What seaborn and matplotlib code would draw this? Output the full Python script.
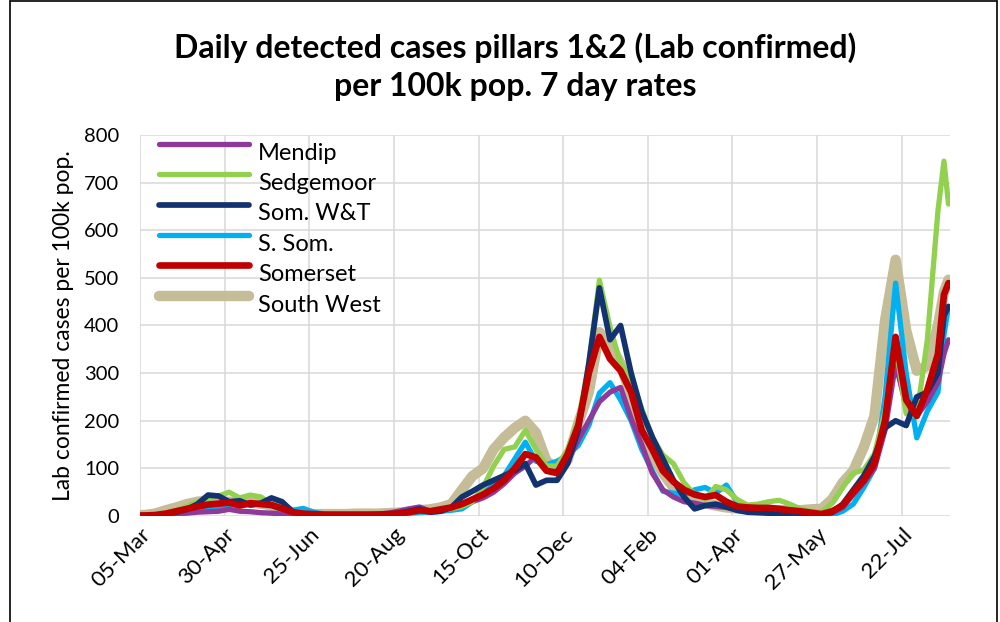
import numpy as np
import pandas as pd
import seaborn as sns
import matplotlib
matplotlib.use('Agg')
from matplotlib import pyplot as plt
import matplotlib.dates as mdates
from matplotlib.lines import Line2D

# sample days, counted from 05-Mar-2020
days = [0] + list(range(3, 529, 7)) + [532, 535]

mendip = [0, 0, 1, 2, 4, 6, 8, 9, 10, 14,
          10, 9, 7, 6, 4, 3, 2, 2, 2, 2,
          2, 3, 3, 4, 6, 10, 15, 19, 10, 12,
          15, 22, 30, 38, 50, 68, 90, 105, 125, 95,
          100, 115, 160, 200, 240, 260, 270, 205, 150, 90,
          55, 40, 30, 27, 22, 20, 18, 14, 13, 12,
          10, 9, 8, 6, 5, 3, 6, 18, 45, 70,
          100, 180, 320, 230, 210, 240, 280, 340, 370]
sedgemoor = [1, 1, 3, 6, 12, 20, 30, 35, 42, 50,
             38, 44, 40, 25, 18, 8, 5, 4, 3, 3,
             3, 3, 3, 3, 4, 5, 8, 12, 10, 12,
             15, 20, 30, 60, 105, 140, 145, 180, 140, 105,
             105, 140, 200, 320, 495, 397, 320, 290, 225, 165,
             128, 110, 70, 45, 35, 62, 55, 35, 23, 25,
             30, 33, 25, 15, 10, 8, 27, 60, 90, 97,
             130, 220, 360, 215, 210, 370, 640, 745, 655]
som_wt = [1, 1, 2, 4, 8, 14, 25, 44, 42, 30,
          32, 23, 27, 38, 30, 9, 4, 3, 2, 2,
          2, 2, 2, 3, 4, 6, 10, 15, 8, 10,
          18, 40, 52, 65, 75, 85, 95, 110, 65, 75,
          75, 110, 180, 320, 479, 370, 400, 300, 220, 166,
          120, 75, 40, 15, 22, 25, 19, 12, 8, 7,
          6, 6, 5, 4, 4, 3, 8, 25, 55, 85,
          125, 185, 200, 190, 250, 260, 300, 420, 440]
s_som = [1, 1, 2, 4, 7, 10, 12, 14, 18, 23,
         26, 25, 27, 22, 13, 12, 16, 8, 4, 3,
         3, 3, 3, 3, 3, 4, 6, 8, 8, 10,
         12, 15, 30, 48, 65, 85, 120, 155, 115, 108,
         115, 128, 148, 190, 258, 280, 244, 200, 140, 95,
         52, 48, 45, 55, 60, 48, 65, 30, 15, 10,
         8, 7, 6, 5, 4, 2, 2, 10, 25, 60,
         100, 250, 489, 300, 164, 220, 260, 380, 440]
somerset = [1, 1, 2, 5, 10, 15, 20, 24, 26, 28,
            22, 27, 25, 23, 16, 8, 5, 4, 3, 3,
            3, 3, 3, 3, 4, 5, 8, 12, 10, 14,
            18, 25, 35, 45, 58, 75, 100, 130, 123, 95,
            90, 130, 190, 300, 376, 330, 305, 260, 180, 140,
            95, 72, 55, 45, 40, 44, 30, 20, 18, 17,
            17, 15, 12, 10, 7, 4, 10, 22, 50, 75,
            110, 200, 376, 244, 210, 265, 340, 465, 489]
south_west = [2, 2, 5, 12, 18, 25, 30, 32, 30, 30,
              28, 28, 26, 22, 14, 8, 5, 4, 4, 4,
              4, 5, 5, 5, 6, 7, 9, 12, 14, 18,
              25, 55, 84, 100, 140, 165, 185, 200, 175, 115,
              100, 118, 195, 260, 386, 360, 320, 250, 175, 130,
              90, 60, 40, 30, 27, 22, 18, 16, 15, 14,
              13, 12, 12, 12, 14, 15, 35, 70, 95, 145,
              210, 410, 538, 390, 305, 315, 400, 470, 496]

legend_order = ['Mendip', 'Sedgemoor', 'Som. W&T', 'S. Som.', 'Somerset', 'South West']
draw_order = ['South West', 'S. Som.', 'Mendip', 'Sedgemoor', 'Som. W&T', 'Somerset']
colors = {'Mendip': '#8E3A9A', 'Sedgemoor': '#92D050', 'Som. W&T': '#12336F',
          'S. Som.': '#00B0F0', 'Somerset': '#C00000', 'South West': '#C4BD97'}
widths = {'Mendip': 3.8, 'Sedgemoor': 3.8, 'Som. W&T': 4.1,
          'S. Som.': 3.8, 'Somerset': 4.8, 'South West': 7.5}

start = pd.Timestamp('2020-03-05')
dates = start + pd.to_timedelta(days, unit='D')
df = pd.DataFrame({'date': dates, 'Mendip': mendip, 'Sedgemoor': sedgemoor,
                   'Som. W&T': som_wt, 'S. Som.': s_som, 'Somerset': somerset,
                   'South West': south_west})
df = df.melt(id_vars='date', var_name='area', value_name='rate')

sns.set_style('white')
plt.rcParams['font.family'] = ['Lato', 'DejaVu Sans']
plt.rcParams.update({'text.color': 'black', 'axes.labelcolor': 'black',
                     'xtick.color': 'black', 'ytick.color': 'black'})

fig = plt.figure(figsize=(10, 6.22), dpi=100)
ax = fig.add_axes([0.14, 0.1704, 0.81, 0.6126])

for area in draw_order:
    sns.lineplot(data=df[df['area'] == area], x='date', y='rate', color=colors[area],
                 linewidth=widths[area], ax=ax, label=area, solid_capstyle='round')

ax.set_xlim(start, start + pd.Timedelta(days=536))
ax.set_ylim(0, 800)
ax.set_yticks(range(0, 801, 100))
ticks = start + pd.to_timedelta(np.arange(0, 505, 56), unit='D')
ax.set_xticks(ticks)
ax.xaxis.set_major_formatter(mdates.DateFormatter('%d-%b'))
ax.grid(True, color='#d9d9d9', linewidth=1.1)
ax.set_axisbelow(True)
for s in ax.spines.values():
    s.set_visible(False)
ax.tick_params(axis='x', length=5, color='#d9d9d9', width=1.1, labelsize=16, pad=1,
               labelcolor='black')
ax.tick_params(axis='y', length=0, labelsize=14.5, pad=15)
plt.setp(ax.get_xticklabels(), rotation=45, ha='right', rotation_mode='anchor')
ax.set_xlabel('')
ax.set_ylabel('Lab confirmed cases per 100k pop.', fontsize=16.5, labelpad=7)

hs = [Line2D([], [], color=colors[a], linewidth=widths[a]) for a in legend_order]
leg = ax.legend(hs, legend_order, loc='upper left', bbox_to_anchor=(0.0235, 0.98), frameon=False,
                fontsize=17, handlelength=3.8, labelspacing=0.40, handletextpad=0.38,
                borderpad=0, borderaxespad=0)
# Excel draws the legend keys a little above the text
for h in leg.legend_handles:
    h.set_ydata(np.asarray(h.get_ydata()) + 5.5)

fig.text(0.515, 0.893, 'Daily detected cases pillars 1&2 (Lab confirmed)\nper 100k pop. 7 day rates',
         ha='center', va='center', fontsize=23, fontweight='bold', linespacing=1.4)

for coords in [([0.01, 0.01], [0, 0.998]), ([0.01, 0.997], [0.998, 0.998]), ([0.997, 0.997], [0, 0.998])]:
    fig.add_artist(Line2D(coords[0], coords[1], color='black', linewidth=1.2))

fig.savefig('out.png', dpi=100)
